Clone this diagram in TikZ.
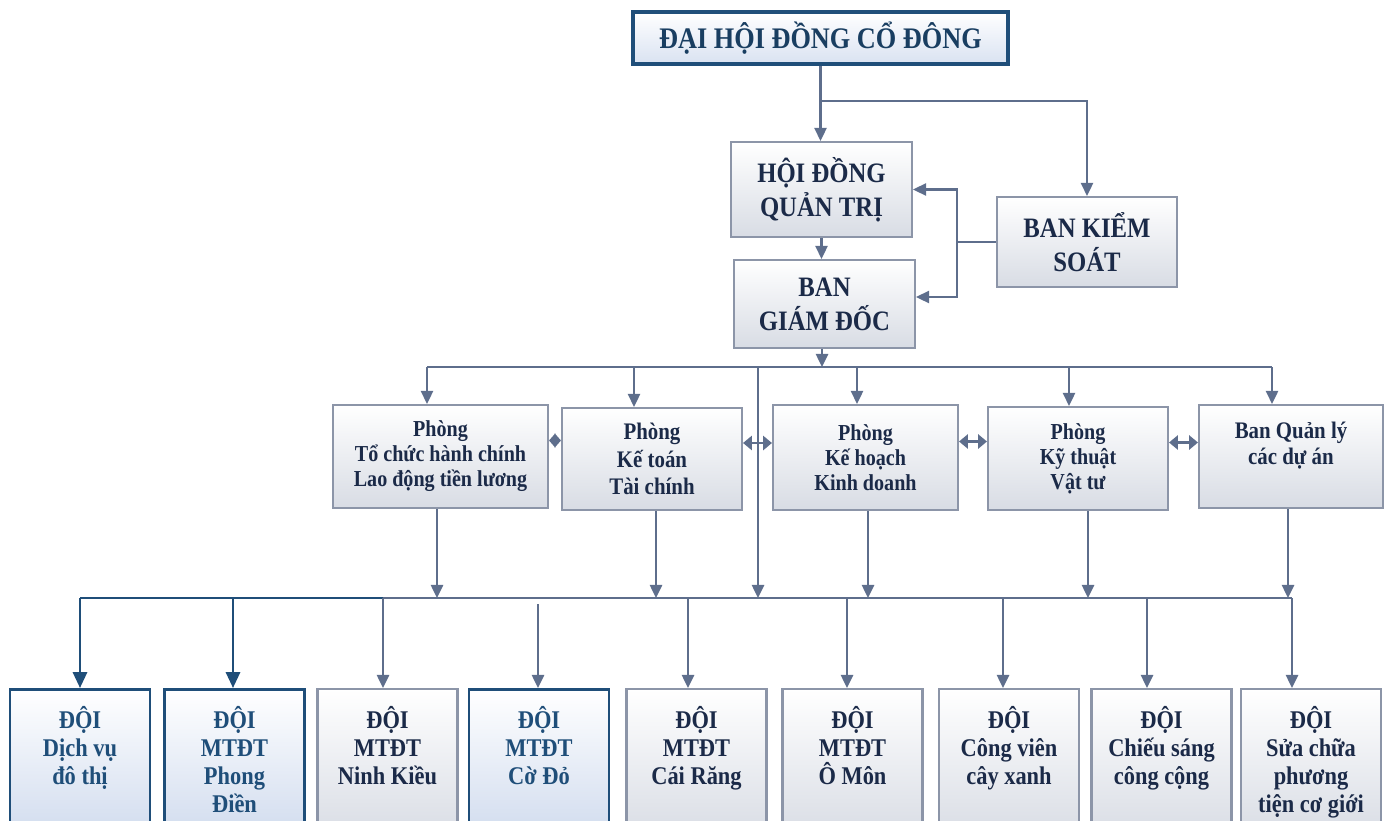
\documentclass[tikz,border=0pt]{standalone}
\usepackage{fontspec}
\setmainfont{Liberation Serif}[FakeStretch=0.88]
\usetikzlibrary{arrows.meta,positioning}
\definecolor{lineGrey}{HTML}{5E6E8C}
\definecolor{boxGrey}{HTML}{8C95A8}
\definecolor{fillGrey}{HTML}{D8DCE4}
\definecolor{navy}{HTML}{1F4E79}
\definecolor{fillBlue}{HTML}{D0DBEE}
\definecolor{txt}{HTML}{1B2A48}
\tikzset{
  greybox/.style={draw=boxGrey, line width=1.2pt, top color=white, bottom color=fillGrey,
    text=txt, font=\bfseries, align=center, inner sep=0pt},
  bluebox/.style={draw=navy, line width=1.5pt, top color=white, bottom color=fillBlue,
    text=navy, font=\bfseries, align=center, inner sep=0pt},
  topbox/.style={draw=navy, line width=2pt, top color=white, bottom color=fillBlue!80,
    text=navy!80!black, align=center, inner sep=0pt,
    font=\fontsize{17}{20}\selectfont\bfseries},
  bigtext/.style={font=\fontsize{16}{19.3}\selectfont\bfseries},
  midtext/.style={font=\fontsize{13}{14.2}\selectfont\bfseries},
  doibox/.style={minimum width=2.8cm, minimum height=3cm},
  doitext/.style={align=center, inner sep=0pt, anchor=north,
    font=\fontsize{14.5}{16}\selectfont\bfseries},
  conn/.style={draw=lineGrey, line width=1.2pt, -{Triangle[length=7.5pt,width=7pt]}},
  bus/.style={draw=lineGrey, line width=1.2pt},
  both/.style={draw=lineGrey, line width=1.2pt,
    {Triangle[length=5pt,width=8pt]}-{Triangle[length=5pt,width=8pt]}},
  bothshort/.style={draw=lineGrey, line width=1.2pt,
    {Triangle[length=3.6pt,width=8pt]}-{Triangle[length=3.6pt,width=8pt]}},
  blueconn/.style={draw=navy, line width=1.5pt, -{Triangle[length=9pt,width=8pt]}},
  bluebus/.style={draw=navy, line width=1.5pt},
}
\begin{document}
\begin{tikzpicture}[x=0.02cm,y=-0.02cm]
\clip (0,0) rectangle (1386,821);
% top levels
\node[topbox, minimum width=7.5cm, minimum height=1.04cm] (dhd) at (820.5,38) {ĐẠI HỘI ĐỒNG CỔ ĐÔNG};
\node[greybox, bigtext, minimum width=3.62cm, minimum height=1.9cm] (hdqt) at (821.5,189.5) {HỘI ĐỒNG\\QUẢN TRỊ};
\node[greybox, bigtext, minimum width=3.6cm, minimum height=1.8cm] (bks) at (1087,242) {BAN KIỂM\\SOÁT};
\node[greybox, bigtext, minimum width=3.62cm, minimum height=1.76cm] (bgd) at (824.5,304) {BAN\\GIÁM ĐỐC};

% phong ban
\node[greybox, midtext, minimum width=4.3cm, minimum height=2.06cm] (tchc) at (440.5,456.5) {Phòng\\Tổ chức hành chính\\Lao động tiền lương};
\node[greybox, font=\fontsize{13.5}{15.8}\selectfont\bfseries, minimum width=3.6cm, minimum height=2.04cm] (kttc) at (652,459) {Phòng\\Kế toán\\Tài chính};
\node[greybox, midtext, minimum width=3.7cm, minimum height=2.1cm] (khkd) at (865.5,457.5) {Phòng\\Kế hoạch\\Kinh doanh};
\node[greybox, midtext, minimum width=3.6cm, minimum height=2.06cm] (ktvt) at (1078,458.5) {Phòng\\Kỹ thuật\\Vật tư};
\node[greybox, font=\fontsize{13.5}{15}\selectfont\bfseries, minimum width=3.68cm, minimum height=2.06cm] (bql) at (1291,456.5) {Ban Quản lý\\các dự án\\\mbox{}};

% cac doi
\foreach \nm/\cx/\sty/\tc/\txt in {dv/80/bluebox/navy/{ĐỘI\\Dịch vụ\\đô thị},
    pd/234.5/bluebox/navy/{ĐỘI\\MTĐT\\Phong\\Điền},
    nk/387.5/greybox/txt/{ĐỘI\\MTĐT\\Ninh Kiều},
    cd/539/bluebox/navy/{ĐỘI\\MTĐT\\Cờ Đỏ},
    cr/696.5/greybox/txt/{ĐỘI\\MTĐT\\Cái Răng},
    om/852.5/greybox/txt/{ĐỘI\\MTĐT\\Ô Môn},
    cv/1009/greybox/txt/{ĐỘI\\Công viên\\cây xanh},
    cs/1161.5/greybox/txt/{ĐỘI\\Chiếu sáng\\công cộng},
    sc/1311/greybox/txt/{ĐỘI\\Sửa chữa\\phương\\tiện cơ giới}}{
  \node[\sty, doibox, anchor=north] (\nm) at (\cx,688) {};
  \node[doitext, text=\tc, below=0.36cm of \nm.north] (\nm t) {\txt};
}

% noi cap tren
\coordinate (j1) at (822,101);
\coordinate (j2) at (957,238);
\coordinate (b1) at (822,367);
\coordinate (c1) at (758,367);
\coordinate (b2) at (758,598);
\coordinate (cdtop) at (538,604);
\draw[conn] (dhd.south) -- (dhd.south |- hdqt.north);
\draw[conn] (j1) -| (bks.north);
\draw[conn] (hdqt.south) -- (hdqt.south |- bgd.north);
\draw[bus] (bks.west) -- (bks.west -| j2);
\draw[conn] (bks.west -| j2) |- (hdqt.east);
\draw[conn] (bks.west -| j2) |- ([yshift=0.14cm]bgd.east);
\draw[conn] ([xshift=-0.05cm]bgd.south) -- ([xshift=-0.05cm]bgd.south |- b1);

% thanh ngang 1
\draw[bus] ([xshift=-0.27cm]tchc.north |- b1) -- ([xshift=-0.38cm]bql.north |- b1);
\foreach \b/\dx in {tchc/-0.27,kttc/-0.36,khkd/-0.17,ktvt/-0.18,bql/-0.38}
  \draw[conn] ([xshift=\dx cm]\b.north |- b1) -- ([xshift=\dx cm]\b.north);
\draw[bothshort] ([yshift=0.32cm]tchc.east) -- ([yshift=0.32cm]tchc.east -| kttc.west);
\foreach \a/\b in {kttc/khkd,khkd/ktvt,ktvt/bql}
  \draw[both] ([yshift=0.32cm]\a.east) -- ([yshift=0.32cm]\a.east -| \b.west);
\draw[conn] (c1) -- (c1 |- b2);

% thanh ngang 2
\foreach \b/\dx in {tchc/-0.07,kttc/0.08,khkd/0.05,ktvt/0.2,bql/-0.06}
  \draw[conn] ([xshift=\dx cm]\b.south) -- ([xshift=\dx cm]\b.south |- b2);
\draw[bluebus] (dv.north |- b2) -- ([xshift=-0.09cm]nk.north |- b2);
\draw[bus] ([xshift=-0.09cm]nk.north |- b2) -- ([xshift=-0.38cm]sc.north |- b2);
\draw[blueconn] (dv.north |- b2) -- (dv.north);
\draw[blueconn] ([xshift=-0.03cm]pd.north |- b2) -- ([xshift=-0.03cm]pd.north);
\foreach \nm/\dx in {nk/-0.09,cr/-0.17,om/-0.11,cv/-0.12,cs/-0.29,sc/-0.38}
  \draw[conn] ([xshift=\dx cm]\nm.north |- b2) -- ([xshift=\dx cm]\nm.north);
\draw[conn] (cdtop) -- (cdtop |- cd.north);
\end{tikzpicture}
\end{document}
